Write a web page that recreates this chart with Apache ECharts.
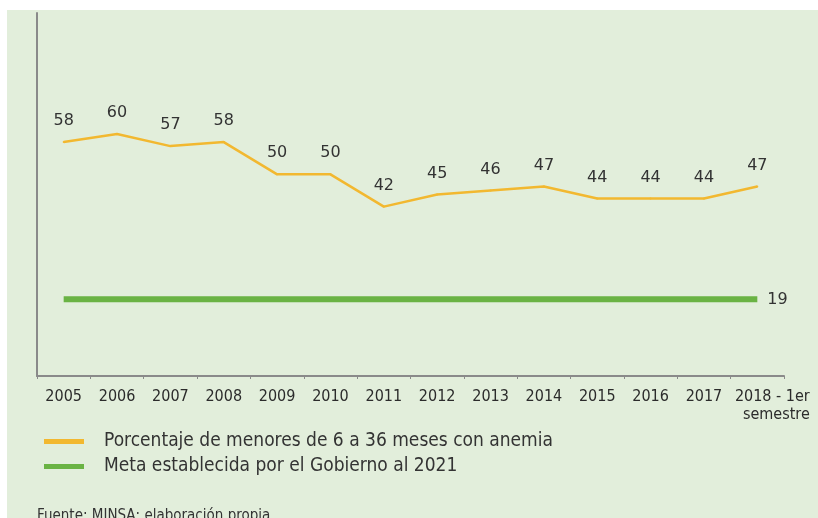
<!DOCTYPE html>
<html>
<head>
<meta charset="utf-8">
<script src="https://cdn.jsdelivr.net/npm/echarts@6/dist/echarts.min.js"></script>
<style>
html,body{margin:0;padding:0;background:#ffffff;}
#c{width:818px;height:518px;}
</style>
</head>
<body>
<div id="c"></div>
<script>
var categories = ['2005','2006','2007','2008','2009','2010','2011','2012','2013','2014','2015','2016','2017','2018 - 1er\nsemestre'];
var anemia = [58,60,57,58,50,50,42,45,46,47,44,44,44,47];
var meta = [19,19,19,19,19,19,19,19,19,19,19,19,19,19];
var seriesNames = ['Porcentaje de menores de 6 a 36 meses con anemia','Meta establecida por el Gobierno al 2021'];
var sourceText = 'Fuente: MINSA; elaboración propia';

var chart = echarts.init(document.getElementById('c'), null, {renderer:'canvas'});
var cond = '"DejaVu Sans Condensed", "DejaVu Sans", sans-serif';
chart.setOption({
  animation:false,
  backgroundColor:'transparent',
  graphic:[
    {type:'rect', z:-10, shape:{x:7,y:10,width:811,height:508}, style:{fill:'#e2eedb'}},
    {type:'text', left:37, top:509, style:{text:sourceText, font:'15px '+cond, fill:'#333'}}
  ],
  grid:{left:37,right:34,top:13,bottom:142},
  legend:{
    orient:'vertical', left:39, top:427, itemWidth:40, itemHeight:5, itemGap:6,
    icon:'rect',
    textStyle:{fontFamily:cond, fontSize:19, color:'#333', padding:[0,0,0,15]},
    data:seriesNames
  },
  xAxis:{
    type:'category', data:categories, boundaryGap:true,
    axisLine:{lineStyle:{color:'#8a8a8a', width:2}},
    axisTick:{show:true, length:3, lineStyle:{color:'#8a8a8a'}},
    axisLabel:{
      interval:0, margin:12, color:'#2b2b2b', fontFamily:cond, fontSize:16, lineHeight:18,
      formatter:function(v,i){ if(i===categories.length-1){ var p=v.split('\n'); return '{a|'+p[0]+'}\n{a|'+p[1]+'}'; } return v; },
      rich:{a:{fontFamily:cond, fontSize:16, color:'#2b2b2b', align:'right', lineHeight:18, padding:[0,0,0,30]}}
    }
  },
  yAxis:{
    type:'value', min:0, max:90,
    axisLine:{show:true, lineStyle:{color:'#8a8a8a', width:2}},
    axisTick:{show:false}, axisLabel:{show:false}, splitLine:{show:false}
  },
  series:[
    {name:seriesNames[0], type:'line', data:anemia, showSymbol:true, symbol:'circle', symbolSize:2,
     color:'#f2b830', itemStyle:{color:'#f2b830'}, lineStyle:{width:2.5, color:'#f2b830'},
     label:{show:true, position:'top', distance:12, color:'#333', fontFamily:'"DejaVu Sans", sans-serif', fontSize:16}},
    {name:seriesNames[1], type:'line', data:meta, symbol:'none',
     color:'#6ab344', lineStyle:{width:6, color:'#6ab344'},
     endLabel:{show:true, formatter:'{c}', color:'#333', fontFamily:'"DejaVu Sans", sans-serif', fontSize:16, distance:10}}
  ]
});
</script>
</body>
</html>
